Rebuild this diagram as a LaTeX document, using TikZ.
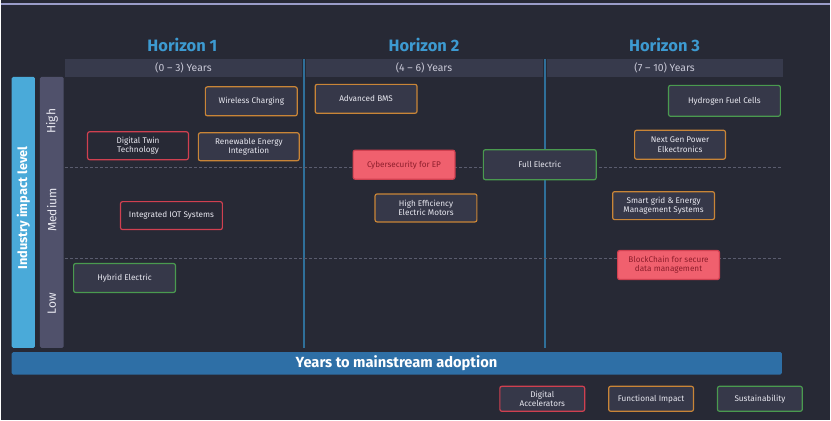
\documentclass[tikz,border=0pt]{standalone}
\usepackage{fontspec}
\setmainfont{Fira Sans}
\usepackage{tikz}

\definecolor{bgdark}{HTML}{272935}
\definecolor{barhead}{HTML}{373A4C}
\definecolor{boxfill}{HTML}{363849}
\definecolor{titleblue}{HTML}{3D9AD1}
\definecolor{axisblue}{HTML}{4AAAD9}
\definecolor{levelgray}{HTML}{50516B}
\definecolor{adoptblue}{HTML}{2E6FA6}
\definecolor{divblue}{HTML}{2F6F99}
\definecolor{digred}{HTML}{D04050}
\definecolor{digpink}{HTML}{F0606E}
\definecolor{pinktext}{HTML}{8E1E2C}
\definecolor{funcorange}{HTML}{C98537}
\definecolor{susgreen}{HTML}{4A9A4F}
\definecolor{lighttext}{HTML}{E8E8F0}
\definecolor{headtext}{HTML}{C8C8D6}
\definecolor{dashgray}{HTML}{5A5C6E}
\definecolor{topline}{HTML}{9A9CC8}

\begin{document}
\begin{tikzpicture}[x=1pt, y=-1pt,
  card/.style={rounded corners=2pt, line width=1.2pt, align=center,
    font=\fontsize{8.2}{9.2}\selectfont, text=lighttext, inner sep=1pt},
  digbox/.style={card, draw=digred, fill=bgdark},
  digfill/.style={card, draw=digred, fill=digpink, text=pinktext},
  funcbox/.style={card, draw=funcorange, fill=boxfill},
  susbox/.style={card, draw=susgreen, fill=boxfill},
  horizon/.style={font=\bfseries\fontsize{16.5}{18}\selectfont, text=titleblue},
  yearbar/.style={fill=barhead},
  yeartext/.style={text=headtext, font=\fontsize{10.4}{12}\selectfont},
  level/.style={rotate=90, font=\fontsize{12}{13}\selectfont, text=lighttext}]

\fill[bgdark] (0,0) rectangle (831,421);
\draw[color=topline, line width=1.5pt] (0,4) -- (831,4);

%%%%%%%%%%%%%%%%%%%%%%%%%%%%%%%
\node[horizon] (hor1) at (182,45) {Horizon 1};
\node[horizon] (hor2) at (424,45) {Horizon 2};
\node[horizon] (hor3) at (665,45) {Horizon 3};

\fill[yearbar] (64,59) rectangle (302,77);
\fill[yearbar] (305.5,59) rectangle (543,77);
\fill[yearbar] (547.5,59) rectangle (783.5,77);

\node[yeartext] (yrs1) at (183,67.5) {(0 -- 3) Years};
\node[yeartext] (yrs2) at (424,67.5) {(4 -- 6) Years};
\node[yeartext] (yrs3) at (665,67.5) {(7 -- 10) Years};

\draw[divblue, line width=1.2pt] (303.7,59) -- (303.7,349);
\draw[divblue, line width=1.2pt] (545.2,59) -- (545.2,349);

\draw[dashgray, densely dashed, line width=0.6pt] (64,167.7) -- (783,167.7);
\draw[dashgray, densely dashed, line width=0.6pt] (64,258.3) -- (783,258.3);

%%%%%%%%%%%%%%%%%%%%%%%%%%%%%%%
\fill[axisblue, rounded corners=1.5pt] (11,77) rectangle (34.3,348.5);
\node[rotate=90, text=white, font=\bfseries\fontsize{12.8}{14}\selectfont] (impact) at (22.6,208.5) {Industry impact level};

\fill[levelgray, rounded corners=1.5pt] (39.3,77) rectangle (63,348.5);
\node[level] (high) at (51.2,121.5) {High};
\node[level] (medium) at (51.2,210.5) {Medium};
\node[level] (low) at (51.2,304) {Low};

\fill[adoptblue, rounded corners=1.5pt] (11,352.7) rectangle (782.5,375.3);
\node[text=white, font=\bfseries\fontsize{14.7}{16}\selectfont] (adopt) at (396.5,363.5) {Years to mainstream adoption};

%%%%%%%%%%%%%%%%%%%%%%%%%%%%%%%
\node[funcbox, minimum width=92pt, minimum height=29pt] (wireless) at (251,101.5) {Wireless Charging};
\node[funcbox, minimum width=102pt, minimum height=29pt] (bms) at (366,99) {Advanced BMS};
\node[digbox, minimum width=101pt, minimum height=28pt] (twin) at (137.5,146) {Digital Twin\\Technology};
\node[funcbox, minimum width=101pt, minimum height=28pt] (renew) at (248.5,147) {Renewable Energy\\Integration};
\node[digfill, minimum width=102pt, minimum height=29pt] (cyber) at (404,165) {Cybersecurity for EP};
\node[susbox, minimum width=113pt, minimum height=30pt] (full) at (540,165) {Full Electric};
\node[susbox, minimum width=112pt, minimum height=31pt] (hydrogen) at (725,101) {Hydrogen Fuel Cells};
\node[funcbox, minimum width=91pt, minimum height=29pt] (nextgen) at (680.5,145) {Next Gen Power\\Elkectronics};
\node[funcbox, minimum width=102pt, minimum height=28pt] (motors) at (426,208.3) {High Efficiency\\Electric Motors};
\node[digbox, minimum width=102pt, minimum height=28pt] (iot) at (171,216) {Integrated IOT Systems};
\node[funcbox, minimum width=102pt, minimum height=28pt] (smart) at (664,206) {Smart grid \& Energy\\Management Systems};
\node[digfill, minimum width=102pt, minimum height=29pt] (block) at (669,265.5) {BlockChain for secure\\data management};
\node[susbox, minimum width=102pt, minimum height=29pt] (hybrid) at (124,278.5) {Hybrid Electric};

%%%%%%%%%%%%%%%%%%%%%%%%%%%%%%%
\node[digbox, fill=boxfill, minimum width=85pt, minimum height=25pt] (legdig) at (542.5,399.5) {Digital\\Accelerators};
\node[funcbox, minimum width=85pt, minimum height=25pt] (legfunc) at (651.5,399.5) {Functional Impact};
\node[susbox, minimum width=85pt, minimum height=25pt] (legsus) at (760.5,399.5) {Sustainability};
\end{tikzpicture}
\end{document}
